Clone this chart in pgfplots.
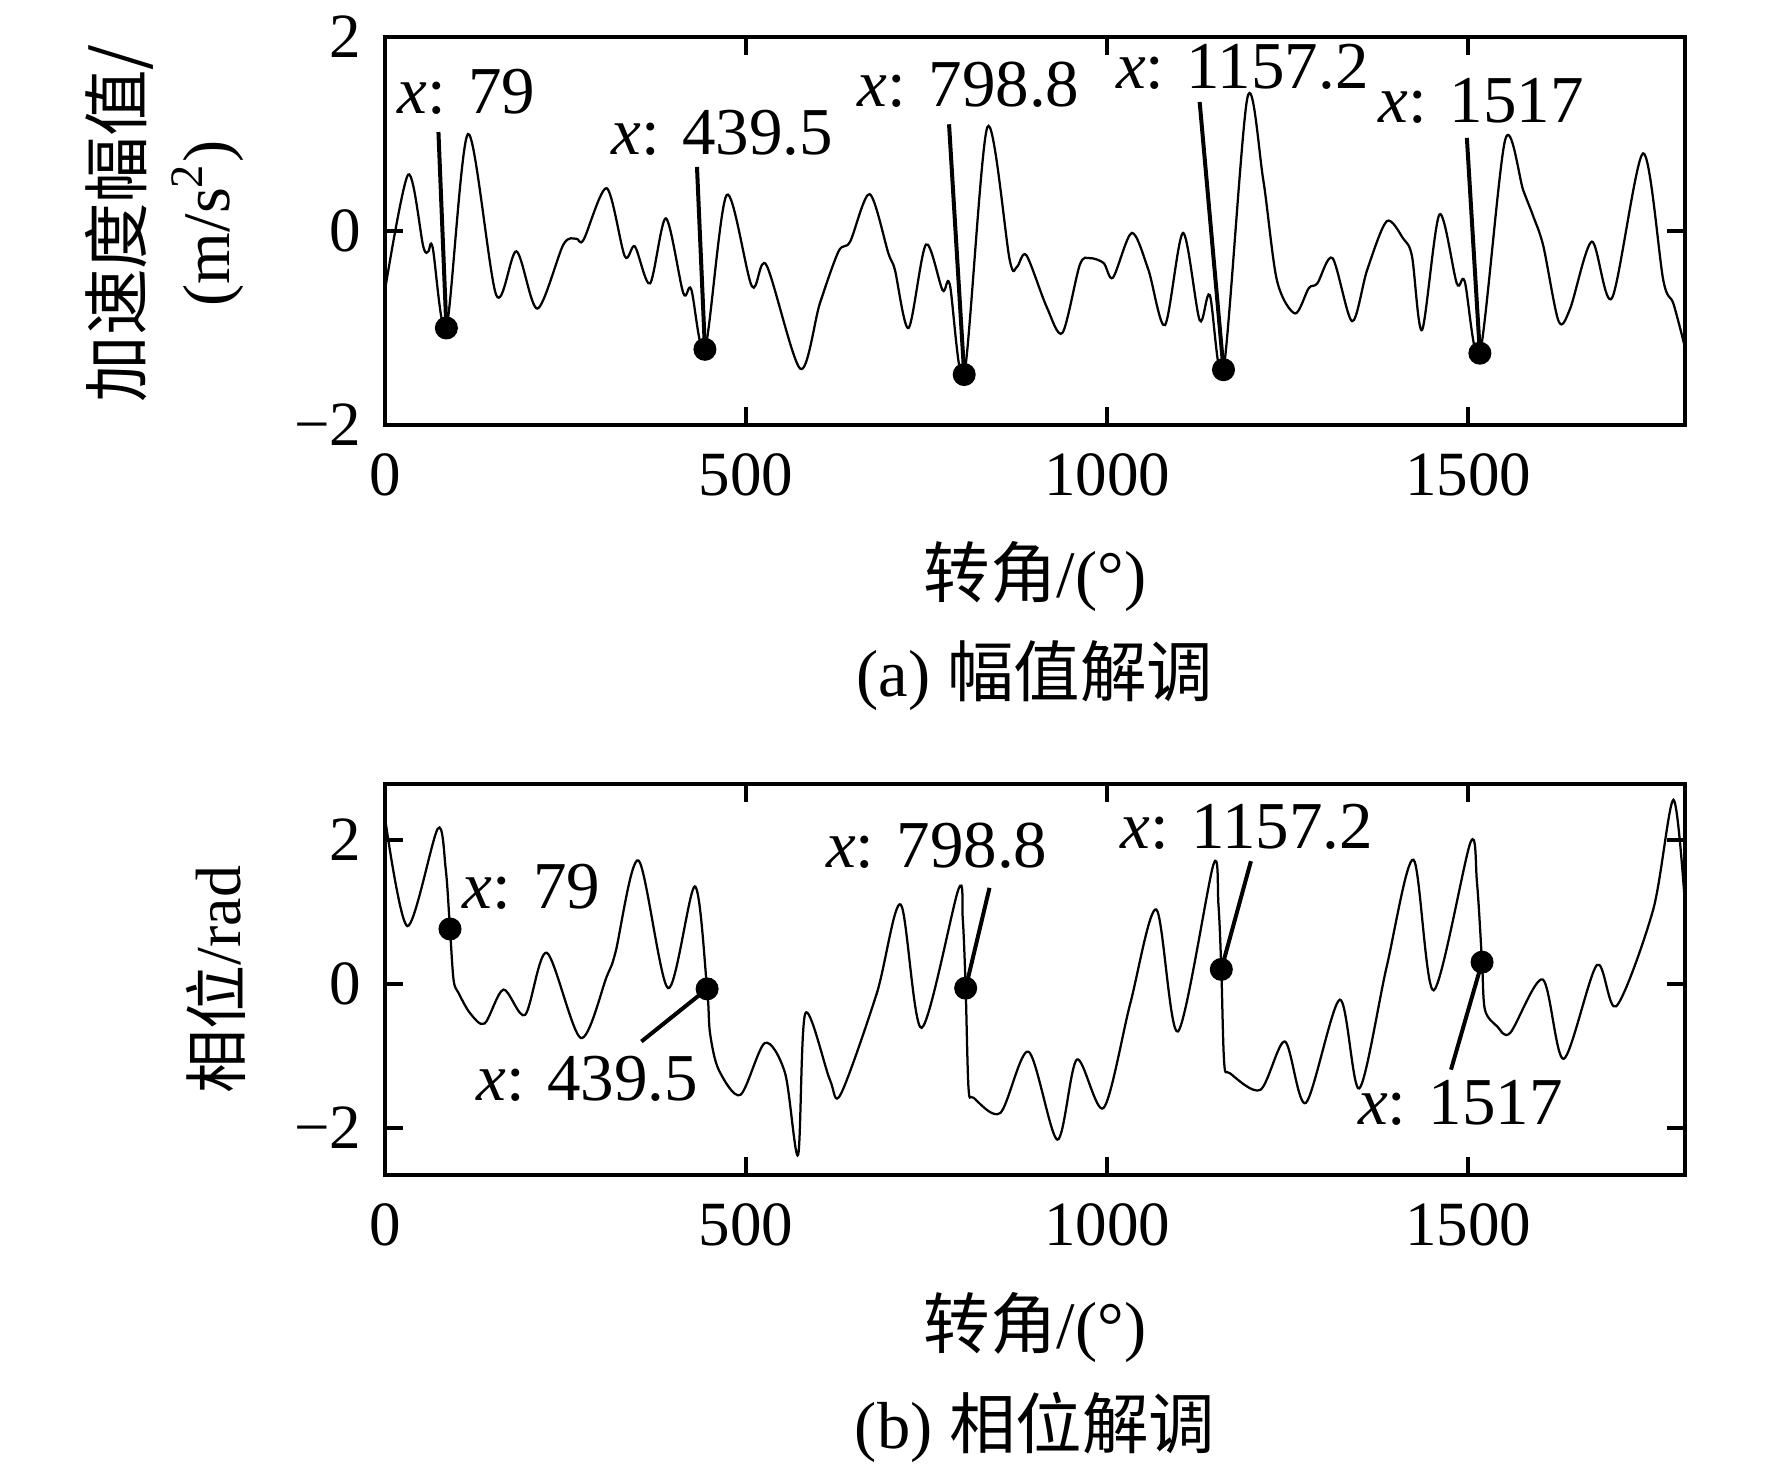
\documentclass[border=0pt]{standalone}
\usepackage{fontspec}
\setmainfont{Liberation Serif}
\newfontfamily\cjk{Noto Sans CJK SC}
\usepackage{pgfplots}
\pgfplotsset{compat=1.18}

\pgfplotstableread{
u v
0 -0.61
32 0.58
53 -0.16
60 -0.21
66 -0.17
85 -1.00
115 1.00
154 -0.66
182 -0.21
211 -0.80
247 -0.14
265 -0.08
275 -0.09
307 0.44
332 -0.26
346 -0.16
367 -0.54
389 0.13
413 -0.64
424 -0.60
443 -1.22
473 0.37
508 -0.57
528 -0.35
575 -1.42
602 -0.75
628 -0.21
644 -0.11
671 0.38
697 -0.23
706 -0.40
725 -1.00
749 -0.14
772 -0.61
782 -0.55
802 -1.48
834 1.07
865 -0.30
875 -0.37
888 -0.25
916 -0.78
938 -1.05
962 -0.35
976 -0.28
995 -0.33
1008 -0.48
1034 -0.02
1057 -0.40
1080 -0.97
1105 -0.02
1128 -0.92
1142 -0.66
1161 -1.43
1194 1.37
1216 0.53
1235 -0.51
1260 -0.85
1279 -0.59
1291 -0.54
1312 -0.28
1339 -0.93
1360 -0.40
1387 0.10
1410 -0.08
1422 -0.26
1436 -1.02
1460 0.17
1484 -0.54
1495 -0.52
1516 -1.26
1551 0.94
1576 0.42
1590 0.15
1604 -0.16
1625 -0.93
1641 -0.80
1671 -0.11
1699 -0.69
1742 0.80
1770 -0.51
1784 -0.75
1800 -1.20
}\ampdata

\pgfplotstableread{
u v
0 2.30
31 0.80
73 2.15
84 1.60
90 0.76
95 0.05
102 -0.13
118 -0.41
138 -0.55
164 -0.08
194 -0.43
224 0.43
271 -0.75
307 0.10
319 0.43
351 1.71
392 -0.06
429 1.35
446 -0.07
450 -0.68
462 -1.19
492 -1.54
526 -0.82
554 -1.24
572 -2.37
582 -0.41
616 -1.33
631 -1.53
681 -0.13
714 1.10
743 -0.61
794 1.31
800 0.90
804 -0.06
808 -1.45
815 -1.58
852 -1.79
891 -0.94
931 -2.16
958 -1.05
995 -1.72
1032 -0.27
1068 1.03
1098 -0.66
1147 1.65
1154 1.10
1158 0.20
1162 -1.10
1170 -1.24
1212 -1.47
1246 -0.80
1275 -1.65
1322 -0.22
1349 -1.45
1387 0.24
1424 1.72
1452 -0.09
1503 1.96
1512 1.40
1519 0.30
1523 -0.36
1540 -0.59
1558 -0.68
1603 0.06
1632 -1.04
1678 0.26
1705 -0.31
1756 1.03
1784 2.55
1800 1.10
}\phasedata

\tikzset{annfont/.style={font=\fontsize{13.4}{16}\selectfont, inner sep=0pt, anchor=center}}
\pgfplotsset{
  myax/.style={
    scale only axis, width=260pt,
    xmin=0, xmax=1800,
    clip=false,
    axis line style={line width=0.8pt},
    every tick/.style={line width=0.8pt, black},
    major tick length=3.6pt,
    tick align=inside,
    xtick={0,500,1000,1500}, xticklabels={0,500,1000,1500},
    tick label style={font=\fontsize{12.6}{14}\selectfont},
    xticklabel style={yshift=-2.1pt},
    yticklabel style={xshift=-1.2pt},
    xlabel={{\cjk 转角}/(°)},
    xlabel style={at={(axis description cs:0.5,-0.391)}, anchor=center, font=\fontsize{13.3}{16}\selectfont},
  },
  curve/.style={black, line width=0.45pt, smooth, tension=0.5, no marks},
  ann/.style={black, line width=0.8pt, no marks},
  dot/.style={black, only marks, mark=*, mark size=2.1pt},
}

\begin{document}
\begin{tikzpicture}
\useasboundingbox (0,0) rectangle (354.4pt,-293.2pt);
% ---------- (a) ----------
\begin{axis}[myax, at={(77pt,-7.4pt)}, anchor=north west, height=77.6pt,
  ymin=-2, ymax=2, ytick={-2,0,2}, yticklabels={−2,0,2},
  ylabel={{\cjk 加速度幅值/}\\(m/s\textsuperscript{2})},
  ylabel style={at={(axis description cs:-0.170,0.52)}, anchor=center, align=center, font=\fontsize{13.3}{17.6}\selectfont},
]
\addplot[curve] table[x=u,y=v] {\ampdata};
\addplot[ann] coordinates {(85,-1.00) (74,1.02)};
\addplot[ann] coordinates {(443,-1.22) (432,0.66)};
\addplot[ann] coordinates {(802,-1.48) (781,1.10)};
\addplot[ann] coordinates {(1161,-1.43) (1128,1.33)};
\addplot[ann] coordinates {(1516,-1.26) (1498,0.96)};
\addplot[dot] coordinates {(85,-1.00) (443,-1.22) (802,-1.48) (1161,-1.43) (1516,-1.26)};
\node[annfont] at (axis cs:113,1.44) {\textit{x}: 79};
\node[annfont] at (axis cs:467,1.01) {\textit{x}: 439.5};
\node[annfont] at (axis cs:808,1.51) {\textit{x}: 798.8};
\node[annfont] at (axis cs:1187,1.69) {\textit{x}: 1157.2};
\node[annfont] at (axis cs:1518,1.34) {\textit{x}: 1517};
\node[font=\fontsize{13.3}{16}\selectfont, anchor=center] at (rel axis cs:0.5,-0.645) {(a) {\cjk 幅值解调}};
\end{axis}
% ---------- (b) ----------
\begin{axis}[myax, at={(77pt,-156.8pt)}, anchor=north west, height=78.2pt,
  ymin=-2.65, ymax=2.77, ytick={-2,0,2}, yticklabels={−2,0,2},
  ylabel={{\cjk 相位}/rad},
  ylabel style={at={(axis description cs:-0.130,0.5)}, anchor=center, font=\fontsize{12.8}{15}\selectfont},
]
\addplot[curve] table[x=u,y=v] {\phasedata};
\addplot[ann] coordinates {(446,-0.07) (355,-0.80)};
\addplot[ann] coordinates {(804,-0.06) (837,1.33)};
\addplot[ann] coordinates {(1158,0.20) (1199,1.70)};
\addplot[ann] coordinates {(1519,0.30) (1476,-1.19)};
\addplot[dot] coordinates {(90,0.76) (446,-0.07) (804,-0.06) (1158,0.20) (1519,0.30)};
\node[annfont] at (axis cs:203,1.35) {\textit{x}: 79};
\node[annfont] at (axis cs:280,-1.31) {\textit{x}: 439.5};
\node[annfont] at (axis cs:764,1.92) {\textit{x}: 798.8};
\node[annfont] at (axis cs:1193,2.17) {\textit{x}: 1157.2};
\node[annfont] at (axis cs:1489,-1.65) {\textit{x}: 1517};
\node[font=\fontsize{13.3}{16}\selectfont, anchor=center] at (rel axis cs:0.5,-0.645) {(b) {\cjk 相位解调}};
\end{axis}
\end{tikzpicture}
\end{document}
